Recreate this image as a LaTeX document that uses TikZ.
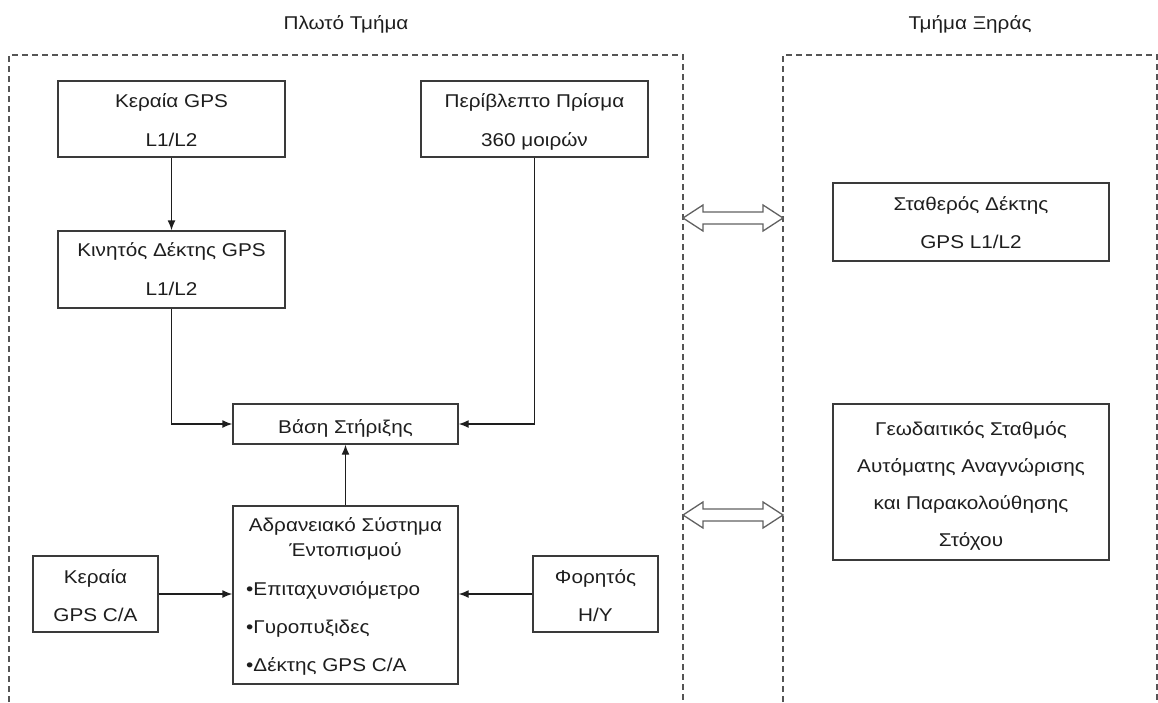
\documentclass[tikz,border=0pt]{standalone}
\usepackage{fontspec}
\setmainfont{Liberation Sans}[FakeStretch=1.12]
\usetikzlibrary{arrows.meta}
\definecolor{ink}{HTML}{1E1E1E}
\definecolor{frame}{HTML}{3A3A3A}
\definecolor{dash}{HTML}{555555}
\tikzset{
  box/.style={draw=frame, line width=1.4pt, rectangle, inner sep=0pt},
  txt/.style={text=ink, anchor=base, inner sep=0pt, font=\fontsize{18.5}{21}\selectfont},
  ltxt/.style={txt, anchor=base west},
  conn/.style={draw=ink, line width=1.4pt, -{Latex[length=10pt,width=8pt]}},
  region/.style={draw=dash, line width=1.3pt, dash pattern=on 6pt off 4pt},
  dblarrow/.style={draw=frame!80, line width=1.3pt, fill=white}
}
\begin{document}
\begin{tikzpicture}[x=1pt,y=-1pt]
\useasboundingbox (0,0) rectangle (1158,702);
% regions
\draw[region] (9,702) -- (9,55) -- (683,55) -- (683,702);
\draw[region] (783,702) -- (783,55) -- (1157,55) -- (1157,702);
\node[txt] (t1) at (346,29) {Πλωτό Τμήμα};
\node[txt] (t2) at (970,29) {Τμήμα Ξηράς};
% boxes
\node[box, minimum width=227pt, minimum height=76pt] (k1) at (171.5,119) {};
\node[txt] at (171.5,107.7) {Κεραία GPS};
\node[txt] at (171.5,146) {L1/L2};
\node[box, minimum width=227pt, minimum height=77pt] (k2) at (171.5,269.5) {};
\node[txt] at (171.5,256.7) {Κινητός Δέκτης GPS};
\node[txt] at (171.5,295) {L1/L2};
\node[box, minimum width=227pt, minimum height=76pt] (pr) at (534.5,119) {};
\node[txt] at (534.5,107.7) {Περίβλεπτο Πρίσμα};
\node[txt] at (534.5,146) {360 μοιρών};
\node[box, minimum width=225pt, minimum height=40pt] (vs) at (345.5,424) {};
\node[txt] at (345.5,433) {Βάση Στήριξης};
\node[box, minimum width=225pt, minimum height=178pt] (ins) at (345.5,595) {};
\node[txt] at (345.5,531.7) {Αδρανειακό Σύστημα};
\node[txt] at (345.5,556.7) {Έντοπισμού};
\node[ltxt] at (246,595) {•Επιταχυνσιόμετρο};
\node[ltxt] at (246,633) {•Γυροπυξιδες};
\node[ltxt] at (246,671.7) {•Δέκτης GPS C/A};
\node[box, minimum width=125pt, minimum height=76pt] (kca) at (95.5,594) {};
\node[txt] at (95.5,583.3) {Κεραία};
\node[txt] at (95.5,621.7) {GPS C/A};
\node[box, minimum width=125pt, minimum height=76pt] (lap) at (595.5,594) {};
\node[txt] at (595.5,583.3) {Φορητός};
\node[txt] at (595.5,621.7) {H/Y};
\node[box, minimum width=276pt, minimum height=78pt] (sd) at (971,222) {};
\node[txt] at (971,210) {Σταθερός Δέκτης};
\node[txt] at (971,248.3) {GPS L1/L2};
\node[box, minimum width=276pt, minimum height=156pt] (geo) at (971,482) {};
\node[txt] at (971,435) {Γεωδαιτικός Σταθμός};
\node[txt] at (971,472.7) {Αυτόματης Αναγνώρισης};
\node[txt] at (971,509) {και Παρακολούθησης};
\node[txt] at (971,546.7) {Στόχου};
% connectors
\draw[conn] (k1.south) -- (k2.north);
\draw[conn] (k2.south) |- (vs.west);
\draw[conn] (pr.south) |- (vs.east);
\draw[conn] (ins.north) -- (vs.south);
\draw[conn] (kca.east) -- (kca.east -| ins.west);
\draw[conn] (lap.west) -- (lap.west -| ins.east);
% double arrows
\foreach \yy in {218,515}{
  \draw[dblarrow] (683,\yy) -- (703,\yy-13) -- (703,\yy-6) -- (763,\yy-6) -- (763,\yy-13)
    -- (783,\yy) -- (763,\yy+13) -- (763,\yy+6) -- (703,\yy+6) -- (703,\yy+13) -- cycle;
}
\end{tikzpicture}
\end{document}
